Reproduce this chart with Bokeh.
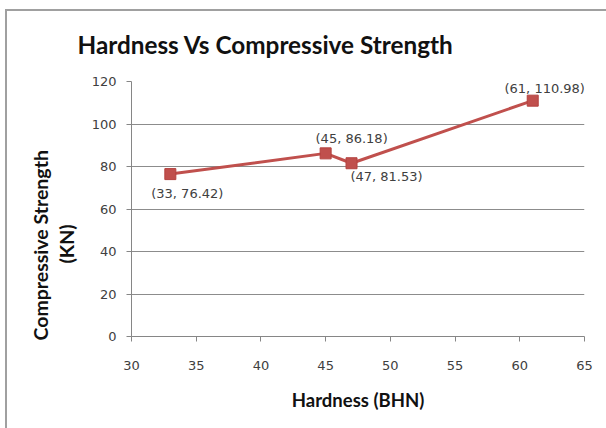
from bokeh.plotting import figure
from bokeh.models import ColumnDataSource, Range1d, FixedTicker, LabelSet, Title, InlineStyleSheet
from bokeh.core.properties import value
from bokeh.embed import file_html
from bokeh.resources import INLINE

hardness = [33, 45, 47, 61]
strength = [76.42, 86.18, 81.53, 110.98]
point_labels = ["(33, 76.42)", "(45, 86.18)", "(47, 81.53)", "(61, 110.98)"]
x_ticks = [30, 35, 40, 45, 50, 55, 60, 65]
y_ticks = [0, 20, 40, 60, 80, 100, 120]

# label placement (styling, screen px)
lab_dx = [17, 26, 35, 12]
lab_dy = [-19, 15, -13, 12]

src = ColumnDataSource(dict(x=hardness, y=strength, t=point_labels, dx=lab_dx, dy=lab_dy))

# chart-area border (left and top edges) drawn as host background
sheet = InlineStyleSheet(css=(
    ":host { background-color: white;"
    " background-image: linear-gradient(#a0a0a0, #a0a0a0), linear-gradient(#a0a0a0, #a0a0a0);"
    " background-size: 2px 100%, 100% 2px;"
    " background-position: 5px 9px, 5px 9px;"
    " background-repeat: no-repeat; }"))

p = figure(width=606, height=428, output_backend="svg", toolbar_location=None,
           x_range=Range1d(30, 65), y_range=Range1d(0, 120),
           min_border_left=131, min_border_right=22, min_border_top=81, min_border_bottom=92,
           title="Hardness Vs Compressive Strength", stylesheets=[sheet])
p.outline_line_color = None
p.background_fill_color = "white"
p.border_fill_color = None

p.title.text_font = "Lato"
p.title.text_font_size = "24.3px"
p.title.text_font_style = "bold"
p.title.text_color = "#111111"
p.title.align = "left"
p.title.offset = -54
p.title.standoff = 45

p.xaxis.ticker = FixedTicker(ticks=x_ticks)
p.yaxis.ticker = FixedTicker(ticks=y_ticks)
p.xaxis.minor_tick_line_color = None
p.yaxis.minor_tick_line_color = None
for ax in (p.xaxis, p.yaxis):
    ax.axis_line_color = "#868686"
    ax.major_tick_line_color = "#868686"
    ax.major_tick_out = 5
    ax.major_tick_in = 0
    ax.major_label_text_font = "DejaVu Sans"
    ax.major_label_text_font_size = "13px"
    ax.major_label_text_color = "#404040"
    ax.axis_label_text_font = "Lato"
    ax.axis_label_text_font_size = "18.5px"
    ax.axis_label_text_font_style = "bold"
    ax.axis_label_text_color = "#111111"
p.xaxis.major_label_standoff = 19
p.yaxis.major_label_standoff = 10
p.xaxis.axis_label = "Hardness (BHN)"
p.xaxis.axis_label_standoff = 16

# y-axis title, two lines, as side titles
t_kn = Title(text="(KN)", align="left", offset=73, standoff=22,
             text_font="Lato", text_font_size="19.5px", text_font_style="bold",
             text_color="#111111")
t_cs = Title(text="Compressive Strength", align="left", offset=-4, standoff=-20,
             text_font="Lato", text_font_size="19.5px", text_font_style="bold",
             text_color="#111111")
p.add_layout(t_kn, "left")
p.add_layout(t_cs, "left")

p.xgrid.grid_line_color = None
p.ygrid.grid_line_color = "#8c8c8c"
p.ygrid.grid_line_width = 1

p.line("x", "y", source=src, line_color="#c0504d", line_width=3)
p.scatter("x", "y", source=src, marker="square", size=11,
          fill_color="#c0504d", line_color="#b4423f")

labels = LabelSet(x="x", y="y", text="t", source=src, x_offset="dx", y_offset="dy",
                  text_font=value("DejaVu Sans"), text_font_size="13px", text_color="#404040",
                  text_align="center", text_baseline="middle")
p.add_layout(labels)

open("out.html", "w").write(file_html(p, INLINE))
